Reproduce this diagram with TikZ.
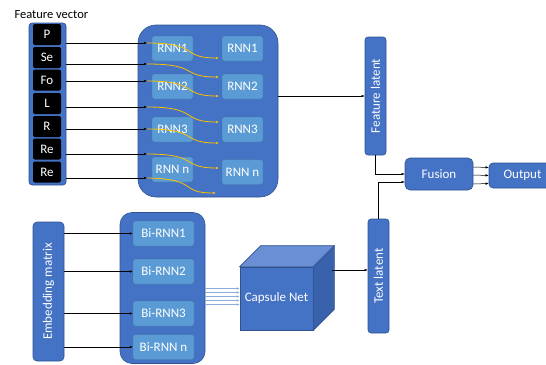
\documentclass[tikz,border=0pt]{standalone}
\usepackage{fontspec}
\setmainfont{Carlito}
\usetikzlibrary{arrows.meta}

\definecolor{boxblue}{HTML}{4472C4}
\definecolor{boxedge}{HTML}{2F528F}
\definecolor{cellblue}{HTML}{5B9BD5}
\definecolor{celledge}{HTML}{41719C}
\definecolor{cubetop}{HTML}{6A8FD4}
\definecolor{cubeside}{HTML}{3A62AC}
\definecolor{flowyellow}{HTML}{FFC000}
\definecolor{linkblue}{HTML}{8FAADC}

\tikzset{
  block/.style={draw=boxedge, fill=boxblue, rounded corners=3pt, text=white, inner sep=0pt, line width=0.6pt},
  cell/.style={draw=celledge, fill=cellblue, rounded corners=2pt, text=white, minimum width=41pt, minimum height=25pt, inner sep=0pt},
  bicell/.style={cell, minimum width=61pt},
  feat/.style={fill=black, rounded corners=2pt, text=white, minimum width=28pt, minimum height=21pt, inner sep=0pt},
  link/.style={-{Latex[length=3pt,width=2.5pt]}, line width=0.5pt},
  flow/.style={-{Latex[length=3pt,width=2.5pt]}, draw=flowyellow, line width=0.8pt},
  skip/.style={-{Latex[length=3pt,width=2.5pt]}, draw=linkblue, line width=0.6pt}
}

\begin{document}
\begin{tikzpicture}[x=1pt, y=-1pt, font=\fontsize{13}{15}\selectfont]
        \useasboundingbox (0,0) rectangle (546,364);
        \clip (0,0) rectangle (546,364);

        \node[anchor=west, font=\fontsize{12.5}{14}\selectfont] (fvlabel) at (11,15) {Feature vector};
        \node[block, minimum width=37pt, minimum height=162pt] (fvec) at (47.5,104) {};
        \node[feat] (f1) at (47,34.5) {P};
        \node[feat] (f2) at (47,57.5) {Se};
        \node[feat] (f3) at (47,80) {Fo};
        \node[feat] (f4) at (47,103.5) {L};
        \node[feat] (f5) at (47,126.5) {R};
        \node[feat] (f6) at (47,149) {Re};
        \node[feat] (f7) at (47,172) {Re};

        \node[block, rounded corners=18pt, minimum width=140pt, minimum height=172pt] (rnn) at (208,111) {};
        \node[cell] (r1) at (172.5,48.5) {RNN1};
        \node[cell] (r2) at (172.5,86.5) {RNN2};
        \node[cell] (r3) at (172.5,129.5) {RNN3};
        \node[cell] (r4) at (172.5,169.5) {RNN n};
        \node[cell] (s1) at (242.5,48.5) {RNN1};
        \node[cell] (s2) at (242.5,86.5) {RNN2};
        \node[cell] (s3) at (242.5,129.5) {RNN3};
        \node[cell] (s4) at (242.5,172) {RNN n};

        \coordinate (in1) at (147,43);
        \coordinate (in2) at (147,64);
        \coordinate (in3) at (147,81);
        \coordinate (in4) at (147,107);
        \coordinate (in5) at (147,129);
        \coordinate (in6) at (147,154);
        \coordinate (in7) at (147,178);
        \coordinate (o1) at (219,58);
        \coordinate (o2) at (219,77);
        \coordinate (o3) at (219,96);
        \coordinate (o4) at (219,122);
        \coordinate (o5) at (219,143);
        \coordinate (o6) at (219,168);
        \coordinate (o7) at (216,193);

        \draw[link] (fvec.east |- in1) -- (in1);
        \draw[link] (fvec.east |- in2) -- (in2);
        \draw[link] (fvec.east |- in3) -- (in3);
        \draw[link] (fvec.east |- in4) -- (in4);
        \draw[link] (fvec.east |- in5) -- (in5);
        \draw[link] (fvec.east |- in6) -- (in6);
        \draw[link] (fvec.east |- in7) -- (in7);

        \draw[flow] (in1) .. controls (200,43) and (180,58) .. (o1);
        \draw[flow] (in2) .. controls (200,64) and (180,77) .. (o2);
        \draw[flow] (in3) .. controls (200,81) and (180,96) .. (o3);
        \draw[flow] (in4) .. controls (200,107) and (180,122) .. (o4);
        \draw[flow] (in5) .. controls (200,129) and (180,143) .. (o5);
        \draw[flow] (in6) .. controls (200,154) and (180,168) .. (o6);
        \draw[flow] (in7) .. controls (200,179) and (178,193) .. (o7);

        \node[block, minimum width=21pt, minimum height=118pt] (flat) at (375.5,96) {\rotatebox{90}{Feature latent}};
        \node[block, minimum width=21pt, minimum height=114pt] (tlat) at (378.5,276) {\rotatebox{90}{Text latent}};
        \node[block, rounded corners=5pt, minimum width=68pt, minimum height=32pt] (fusion) at (439,174) {Fusion};
        \node[block, rounded corners=4pt, minimum width=67pt, minimum height=25pt] (output) at (522.5,175.5) {Output};

        \draw[link] (flat.west -| rnn.east) -- (flat.west);
        \draw[link] (flat.south) |- (fusion.west);
        \draw[link] (tlat.north) |- ([yshift=-8pt]fusion.west);
        \draw[link] ([yshift=7pt]fusion.east) -- ([yshift=8pt]output.west);
        \draw[link] ([yshift=-1pt]fusion.east) -- (output.west);
        \draw[link] ([yshift=-10pt]fusion.east) -- ([yshift=-8pt]output.west);

        \node[block, rounded corners=4pt, minimum width=31pt, minimum height=139pt] (emb) at (48.5,291.5) {\rotatebox{90}{Embedding matrix}};
        \node[block, rounded corners=12pt, minimum width=85pt, minimum height=151pt] (birnn) at (162.5,288) {};
        \node[bicell] (b1) at (163.5,233.5) {Bi-RNN1};
        \node[bicell] (b2) at (163.5,271.5) {Bi-RNN2};
        \node[bicell] (b3) at (163.5,313.5) {Bi-RNN3};
        \node[bicell] (b4) at (163.5,347) {Bi-RNN n};

        \draw[link] (emb.east |- b1.west) -- (b1.west);
        \draw[link] (emb.east |- b2.west) -- (b2.west);
        \draw[link] (emb.east |- b3.west) -- (b3.west);
        \draw[link] (emb.east |- b4.west) -- (b4.west);

        \node[block, rounded corners=0pt, minimum width=73pt, minimum height=63pt] (cube) at (276.5,298.5) {Capsule Net};
        \draw[draw=boxedge, fill=cubetop, line width=0.6pt] (cube.north west) -- ([shift={(21pt,21pt)}]cube.north west) -- ([shift={(21pt,21pt)}]cube.north east) -- (cube.north east) -- cycle;
        \draw[draw=boxedge, fill=cubeside, line width=0.6pt] (cube.north east) -- ([shift={(21pt,21pt)}]cube.north east) -- ([shift={(21pt,21pt)}]cube.south east) -- (cube.south east) -- cycle;

        \coordinate (k1) at ([yshift=10pt]cube.west);
        \coordinate (k2) at ([yshift=6pt]cube.west);
        \coordinate (k3) at ([yshift=2pt]cube.west);
        \coordinate (k4) at ([yshift=-2pt]cube.west);
        \coordinate (k5) at ([yshift=-6pt]cube.west);
        \draw[skip] (birnn.east |- k1) -- (k1);
        \draw[skip] (birnn.east |- k2) -- (k2);
        \draw[skip] (birnn.east |- k3) -- (k3);
        \draw[skip] (birnn.east |- k4) -- (k4);
        \draw[skip] (birnn.east |- k5) -- (k5);

        \coordinate (capout) at (332,270);
        \draw[link] (capout) -- (tlat.west |- capout);
\end{tikzpicture}
\end{document}
